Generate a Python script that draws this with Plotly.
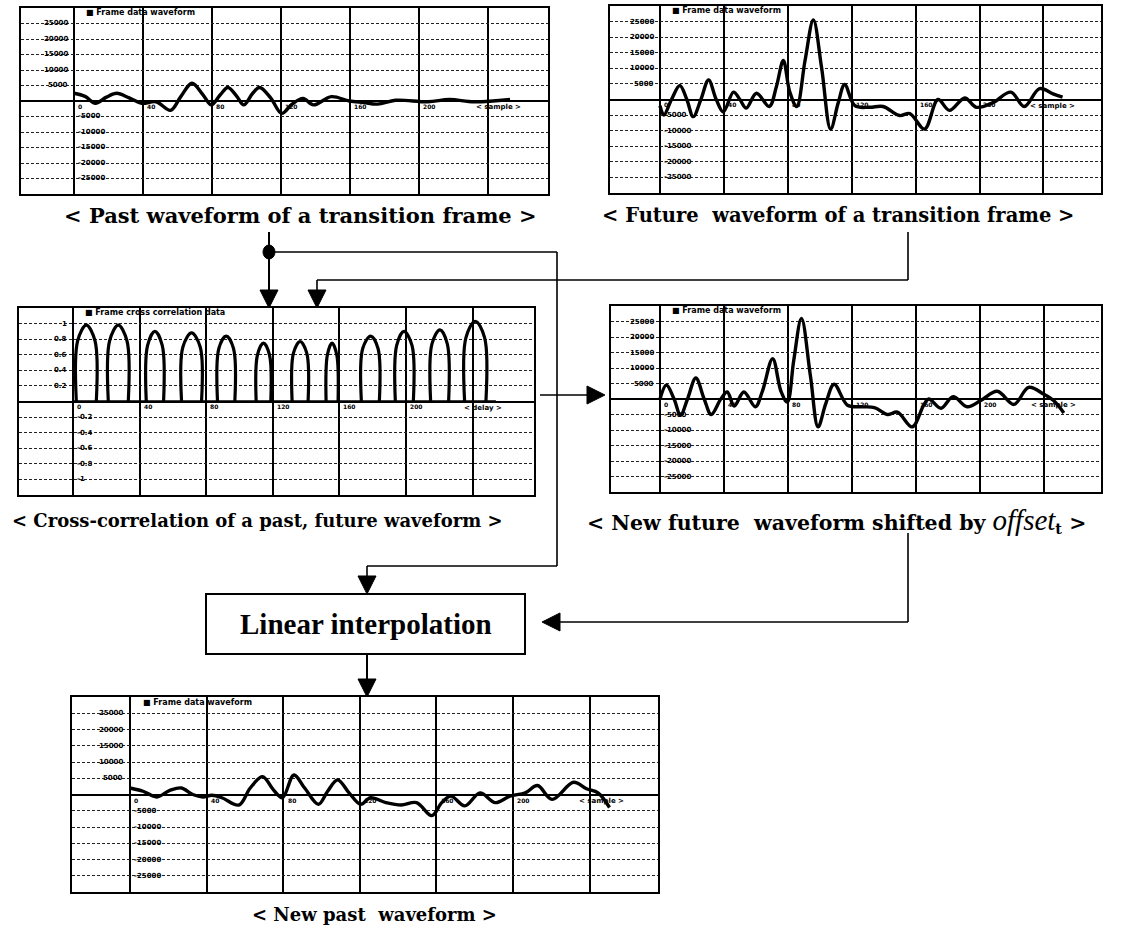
import plotly.graph_objects as go

W, H = 1142, 933

# ---------------- data (x: grid columns from first sample line, y: grid rows from zero line)
past_x = [0.00, 0.16, 0.31, 0.47, 0.62, 0.80, 0.98, 1.19, 1.40, 1.55, 1.71, 1.87, 1.99, 2.12, 2.23, 2.36,
          2.46, 2.59, 2.69, 2.85, 3.01, 3.16, 3.32, 3.47, 3.73, 3.99, 4.20, 4.40, 4.66, 5.13, 5.44, 5.80, 6.32]
past_y = [0.5, 0.3, -0.15, 0.25, 0.5, 0.2, -0.15, -0.05, -0.6, 0.3, 1.15, 0.4, -0.25, 0.4, 0.87, 0.3,
          -0.25, 0.5, 0.87, 0.2, -0.8, -0.2, 0.17, -0.25, 0.28, 0.0, -0.1, -0.2, 0.05, -0.05, 0.1, -0.05, 0.1]

future_x = [0.00, 0.06, 0.18, 0.31, 0.42, 0.52, 0.64, 0.76, 0.88, 0.99, 1.15, 1.25, 1.35, 1.51, 1.71, 1.82,
            1.93, 2.03, 2.14, 2.27, 2.40, 2.53, 2.67, 2.79, 2.89, 3.05, 3.28, 3.49, 3.75, 3.91, 4.14, 4.35,
            4.53, 4.77, 4.95, 5.21, 5.49, 5.70, 5.94, 6.15, 6.30]
future_y = [-0.4, -1.0, 0.0, 0.9, 0.0, -1.1, 0.0, 1.25, 0.0, -0.8, 0.47, 0.0, -0.55, 0.4, -0.45, 0.8,
            2.5, 0.5, -0.45, 2.5, 5.1, 2.0, -1.9, -0.2, 0.96, -0.4, -0.5, -0.45, -1.03, -0.9, -1.9, 0.0,
            -0.7, 0.1, -0.5, -0.2, 0.47, -0.45, 0.7, 0.36, 0.15]

xcorr_x = [0.05, 0.07, 0.20, 0.33, 0.35, None,
           0.53, 0.55, 0.68, 0.81, 0.83, None,
           1.10, 1.12, 1.23, 1.34, 1.36, None,
           1.63, 1.65, 1.78, 1.91, 1.93, None,
           2.17, 2.19, 2.30, 2.41, 2.43, None,
           2.75, 2.77, 2.86, 2.95, 2.97, None,
           3.29, 3.31, 3.41, 3.51, 3.53, None,
           3.80, 3.82, 3.89, 3.96, 3.98, None,
           4.33, 4.35, 4.47, 4.58, 4.60, None,
           4.84, 4.86, 4.97, 5.09, 5.11, None,
           5.37, 5.39, 5.51, 5.62, 5.64, None,
           5.88, 5.90, 6.04, 6.18, 6.20]
xcorr_y = [0, 3.9, 4.9, 3.9, 0, None,
           0, 3.9, 4.9, 3.9, 0, None,
           0, 3.6, 4.5, 3.6, 0, None,
           0, 3.5, 4.4, 3.5, 0, None,
           0, 3.4, 4.2, 3.4, 0, None,
           0, 3.0, 3.75, 3.0, 0, None,
           0, 3.1, 3.85, 3.1, 0, None,
           0, 3.0, 3.75, 3.0, 0, None,
           0, 3.4, 4.2, 3.4, 0, None,
           0, 3.6, 4.5, 3.6, 0, None,
           0, 3.7, 4.6, 3.7, 0, None,
           0, 4.1, 5.15, 4.1, 0]
xcorr_floor_x = [0.0, 6.35]
xcorr_floor_y = [0.0, 0.0]

newfut_x = [0.00, 0.10, 0.22, 0.32, 0.43, 0.56, 0.69, 0.80, 0.95, 1.05, 1.16, 1.31, 1.49, 1.60, 1.76, 1.89,
            1.99, 2.09, 2.21, 2.35, 2.47, 2.59, 2.72, 2.93, 3.14, 3.35, 3.56, 3.71, 3.94, 4.12, 4.20, 4.39,
            4.58, 4.80, 5.01, 5.27, 5.53, 5.76, 6.00, 6.15, 6.31]
newfut_y = [0.0, 0.9, 0.0, -1.05, 0.0, 1.35, 0.0, -1.0, 0.0, 0.45, -0.45, 0.45, -0.5, 0.5, 2.6, 0.5,
            -0.2, 2.5, 5.2, 1.5, -1.8, -0.3, 0.95, -0.4, -0.5, -0.55, -1.0, -0.85, -1.8, -0.4, 0.0, -0.6,
            0.15, -0.5, -0.1, 0.5, -0.35, 0.75, 0.3, -0.1, -0.9]

newpast_x = [0.00, 0.17, 0.35, 0.52, 0.67, 0.82, 0.95, 1.07, 1.20, 1.42, 1.57, 1.73, 1.87, 1.99, 2.14, 2.28,
             2.46, 2.58, 2.71, 2.86, 3.01, 3.14, 3.34, 3.54, 3.74, 3.94, 4.07, 4.19, 4.37, 4.57, 4.77, 4.96,
             5.16, 5.32, 5.51, 5.79, 5.96, 6.11, 6.26]
newpast_y = [0.4, 0.2, -0.15, 0.25, 0.4, 0.0, -0.15, -0.05, -0.2, -0.65, 0.4, 1.1, 0.3, -0.2, 1.2, 0.4,
             -0.6, 0.2, 0.9, 0.1, -0.6, -0.2, -0.5, -0.65, -0.5, -1.3, -0.5, -0.1, -0.7, 0.1, -0.5, -0.1,
             0.1, 0.55, -0.3, 0.75, 0.35, 0.1, -0.8]

amp_up = ["25000", "20000", "15000", "10000", "5000"]
amp_dn = ["-5000", "-10000", "-15000", "-20000", "-25000"]
corr_up = ["1", "0.8", "0.6", "0.4", "0.2"]
corr_dn = ["-0.2", "-0.4", "-0.6", "-0.8", "-1"]
rows_up = [5, 4, 3, 2, 1]
rows_dn = [-1, -2, -3, -4, -5]
sample_ticks = ["0", "40", "80", "120", "160", "200"]
sample_cols = [0, 1, 2, 3, 4, 5]

cap_past = "&lt; Past waveform of a transition frame &gt;"
cap_future = "&lt; Future&#160; waveform of a transition frame &gt;"
cap_xcorr = "&lt; Cross-correlation of a past, future waveform &gt;"
cap_newfut = ("&lt; New future&#160; waveform shifted by "
              "<span style='font-family:Liberation Serif;font-style:italic;font-weight:normal;font-size:29px'>offset</span>"
              "<sub>t</sub> &gt;")
cap_newpast = "&lt; New past&#160; waveform &gt;"
box_text = "Linear interpolation"

# ---------------- panel geometry (pixels)
panels = [
    dict(box=(21, 548, 8, 194), first=74, col=69.0, x=past_x, y=past_y, kind="wave",
         title="■ Frame data waveform", cap=cap_past, capxy=(300, 215), capsize=21),
    dict(box=(610, 1101, 6, 193), first=660, col=63.9, x=future_x, y=future_y, kind="wave",
         title="■ Frame data waveform", cap=cap_future, capxy=(838, 215), capsize=19.5),
    dict(box=(19, 534, 308, 495), first=73, col=66.6, x=xcorr_x, y=xcorr_y, kind="corr",
         title="■ Frame cross correlation data", cap=cap_xcorr, capxy=(257, 520), capsize=18),
    dict(box=(611, 1101, 306, 492), first=660, col=64.0, x=newfut_x, y=newfut_y, kind="wave",
         title="■ Frame data waveform", cap=cap_newfut, capxy=(836, 520), capsize=20.5),
    dict(box=(72, 658, 697, 892), first=130, col=76.6, x=newpast_x, y=newpast_y, kind="wave",
         title="■ Frame data waveform", cap=cap_newpast, capxy=(374, 914), capsize=18),
]

fig = go.Figure()
layout = dict(width=W, height=H, margin=dict(l=0, r=0, t=0, b=0), paper_bgcolor="white",
              plot_bgcolor="white", showlegend=False)
annotations = []
shapes = []
tiny = dict(family="DejaVu Sans", size=7, color="black", weight="bold")

for i, p in enumerate(panels, start=1):
    x0, x1, y0, y1 = p["box"]
    xs = "" if i == 1 else str(i)
    xr = [(x0 - p["first"]) / p["col"], (x1 - p["first"]) / p["col"]]
    layout["xaxis" + xs] = dict(domain=[x0 / W, x1 / W], range=xr, anchor="y" + xs,
                                tick0=0, dtick=1, showgrid=True, gridcolor="black", gridwidth=1.6,
                                showticklabels=False, ticks="", zeroline=False,
                                showline=True, mirror=True, linecolor="black", linewidth=2, fixedrange=True)
    layout["yaxis" + xs] = dict(domain=[1 - y1 / H, 1 - y0 / H], range=[-6, 6], anchor="x" + xs,
                                tick0=0, dtick=1, showgrid=True, gridcolor="#222", gridwidth=1,
                                griddash="3px,2px", showticklabels=False, ticks="",
                                zeroline=True, zerolinecolor="black", zerolinewidth=1.6,
                                showline=True, mirror=True, linecolor="black", linewidth=2, fixedrange=True)
    if p["kind"] == "corr":
        fig.add_trace(go.Scatter(x=xcorr_floor_x, y=xcorr_floor_y, mode="lines", xaxis="x" + xs, yaxis="y" + xs,
                                 line=dict(color="black", width=2.5), hoverinfo="skip"))
        fig.add_trace(go.Scatter(x=p["x"], y=p["y"], mode="lines", xaxis="x" + xs, yaxis="y" + xs,
                                 connectgaps=False,
                                 line=dict(color="black", width=3.2, shape="spline", smoothing=1.0),
                                 hoverinfo="skip"))
        ups, dns, xlab = corr_up, corr_dn, "&lt; delay &gt;"
    else:
        fig.add_trace(go.Scatter(x=p["x"], y=p["y"], mode="lines", xaxis="x" + xs, yaxis="y" + xs,
                                 line=dict(color="black", width=3.4, shape="spline", smoothing=1.0),
                                 hoverinfo="skip"))
        ups, dns, xlab = amp_up, amp_dn, "&lt; sample &gt;"
    xref, yref = "x" + xs, "y" + xs
    for t, r in zip(ups, rows_up):
        annotations.append(dict(x=-0.06, y=r, xref=xref, yref=yref, text=t, showarrow=False,
                                xanchor="right", yanchor="middle", font=tiny))
    for t, r in zip(dns, rows_dn):
        annotations.append(dict(x=0.03, y=r, xref=xref, yref=yref, text=t, showarrow=False,
                                xanchor="left", yanchor="middle", font=tiny))
    for t, c in zip(sample_ticks, sample_cols):
        annotations.append(dict(x=c + 0.03, y=-0.35, xref=xref, yref=yref, text=t, showarrow=False,
                                xanchor="left", yanchor="middle", font=dict(tiny, size=6)))
    annotations.append(dict(x=6.15, y=-0.4, xref=xref, yref=yref, text=xlab, showarrow=False,
                            xanchor="center", yanchor="middle", font=tiny))
    annotations.append(dict(x=0.15, y=5.68, xref=xref, yref=yref, text=p["title"], showarrow=False,
                            xanchor="left", yanchor="middle", font=dict(tiny, size=8)))
    cx, cy = p["capxy"]
    annotations.append(dict(x=cx / W, y=1 - cy / H, xref="paper", yref="paper", text=p["cap"],
                            showarrow=False, xanchor="center", yanchor="middle",
                            font=dict(family="DejaVu Serif", size=p["capsize"], color="black", weight="bold")))


def seg(xa, ya, xb, yb, w=1.6):
    shapes.append(dict(type="line", xref="paper", yref="paper", x0=xa / W, y0=1 - ya / H,
                       x1=xb / W, y1=1 - yb / H, line=dict(color="black", width=w)))


def tri(pts):
    path = "M " + " L ".join(f"{x / W:.5f},{1 - y / H:.5f}" for x, y in pts) + " Z"
    shapes.append(dict(type="path", xref="paper", yref="paper", path=path, fillcolor="black",
                       line=dict(color="black", width=1)))


def down(x, y):
    tri([(x - 9, y - 18), (x + 9, y - 18), (x, y)])


def left(x, y):
    tri([(x + 18, y - 9), (x + 18, y + 9), (x, y)])


def right(x, y):
    tri([(x - 18, y - 9), (x - 18, y + 9), (x, y)])


# connector from past waveform to correlation and to interpolation
seg(269, 232, 269, 292, 2)
down(269, 308)
shapes.append(dict(type="circle", xref="paper", yref="paper", x0=263 / W, x1=275 / W,
                   y0=1 - 259 / H, y1=1 - 245 / H, fillcolor="black", line=dict(color="black", width=1)))
seg(269, 252, 557, 252)
seg(557, 252, 557, 566)
seg(557, 566, 367, 566)
seg(367, 566, 367, 577)
down(367, 594)
# connector from future waveform to correlation
seg(908, 232, 908, 280)
seg(908, 280, 317, 280)
seg(317, 280, 317, 291)
down(317, 308)
# correlation -> new future
seg(540, 395, 588, 395)
right(605, 395)
# new future -> interpolation
seg(908, 533, 908, 622)
seg(908, 622, 559, 622)
left(542, 622)
# interpolation box and output arrow
shapes.append(dict(type="rect", xref="paper", yref="paper", x0=206 / W, x1=525 / W,
                   y0=1 - 654 / H, y1=1 - 594 / H, line=dict(color="black", width=2), fillcolor="white"))
annotations.append(dict(x=366 / W, y=1 - 624 / H, xref="paper", yref="paper", text=box_text,
                        showarrow=False, xanchor="center", yanchor="middle",
                        font=dict(family="Liberation Serif", size=29, color="black", weight="bold")))
seg(367, 654, 367, 680, 2)
down(367, 697)

layout["shapes"] = shapes
layout["annotations"] = annotations
fig.update_layout(**layout)

fig.write_html("out.html", config={"displayModeBar": False},
               post_script="document.body.style.margin='0';document.body.style.overflow='hidden';")
